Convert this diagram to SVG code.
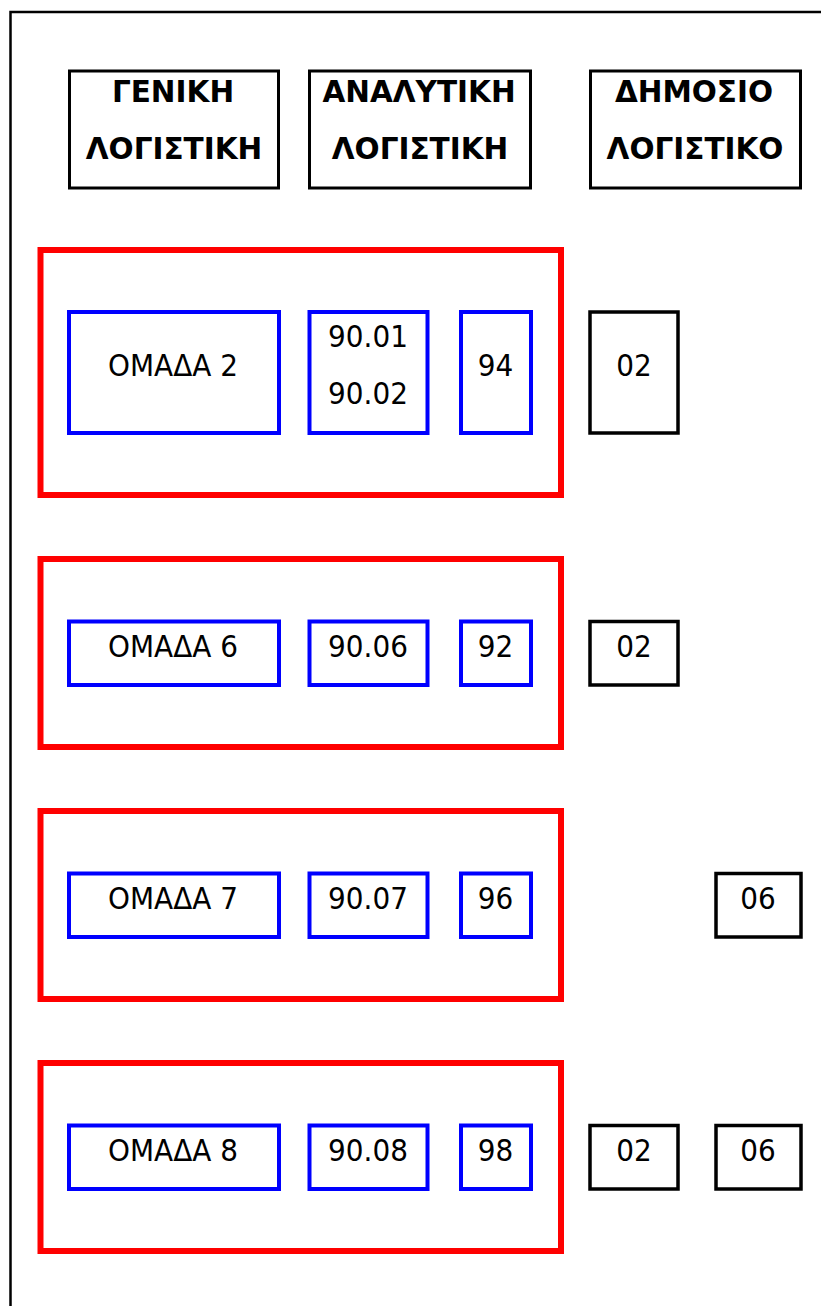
<svg xmlns="http://www.w3.org/2000/svg" width="821" height="1306" viewBox="0 0 821 1306">
  <style>
    .frame { fill: none; stroke: #000; stroke-width: 2.5; }
    .head { fill: #fff; stroke: #000; stroke-width: 3; }
    .grp { fill: none; stroke: #ff0000; stroke-width: 6; }
    .acc { fill: #fff; stroke: #0000ff; stroke-width: 4; }
    .pub { fill: #fff; stroke: #000; stroke-width: 3.5; }
    .ht { font-family: "DejaVu Sans", "Liberation Sans", sans-serif; font-weight: bold; font-size: 29.5px; text-anchor: middle; fill: #000; }
    .t { font-family: "DejaVu Sans Condensed", "DejaVu Sans", "Liberation Sans", sans-serif; font-stretch: condensed; font-size: 31px; text-anchor: middle; fill: #000; }
  </style>
  <rect width="821" height="1306" fill="#fff"/>

  <!-- page frame -->
  <path class="frame" d="M10.5,1306 V12 H821"/>

  <!-- column headers -->
  <g id="hdr-general">
    <rect class="head" x="69.5" y="71" width="209" height="117"/>
    <text class="ht" x="173" y="102">ΓΕΝΙΚΗ</text>
    <text class="ht" x="174" y="159">ΛΟΓΙΣΤΙΚΗ</text>
  </g>
  <g id="hdr-analytic">
    <rect class="head" x="309.5" y="71" width="221" height="117"/>
    <text class="ht" x="419" y="102">ΑΝΑΛΥΤΙΚΗ</text>
    <text class="ht" x="420" y="159">ΛΟΓΙΣΤΙΚΗ</text>
  </g>
  <g id="hdr-public">
    <rect class="head" x="590.5" y="71" width="210" height="117"/>
    <text class="ht" x="694" y="102">ΔΗΜΟΣΙΟ</text>
    <text class="ht" x="695" y="159">ΛΟΓΙΣΤΙΚΟ</text>
  </g>

  <!-- group 2 -->
  <g id="grp2">
    <rect class="grp" x="40.5" y="250" width="520.5" height="245"/>
    <g id="grp2-gen">
      <rect class="acc" x="69" y="312" width="210" height="121"/>
      <text class="t" x="173" y="376">ΟΜΑΔΑ 2</text>
    </g>
    <g id="grp2-ana">
      <rect class="acc" x="309.5" y="312" width="118" height="121"/>
      <text class="t" x="368" y="347">90.01</text>
      <text class="t" x="368" y="404">90.02</text>
    </g>
    <g id="grp2-cls">
      <rect class="acc" x="461" y="312" width="70" height="121"/>
      <text class="t" x="495.5" y="376">94</text>
    </g>
  </g>
  <g id="grp2-pub02">
    <rect class="pub" x="590" y="312" width="88" height="121"/>
    <text class="t" x="634" y="376">02</text>
  </g>

  <!-- group 6 -->
  <g id="grp6">
    <rect class="grp" x="40.5" y="559" width="520.5" height="188"/>
    <g id="grp6-gen">
      <rect class="acc" x="69" y="621.5" width="210" height="63.5"/>
      <text class="t" x="173" y="657">ΟΜΑΔΑ 6</text>
    </g>
    <g id="grp6-ana">
      <rect class="acc" x="309.5" y="621.5" width="118" height="63.5"/>
      <text class="t" x="368" y="657">90.06</text>
    </g>
    <g id="grp6-cls">
      <rect class="acc" x="461" y="621.5" width="70" height="63.5"/>
      <text class="t" x="495.5" y="657">92</text>
    </g>
  </g>
  <g id="grp6-pub02">
    <rect class="pub" x="590" y="621.5" width="88" height="63.5"/>
    <text class="t" x="634" y="657">02</text>
  </g>

  <!-- group 7 -->
  <g id="grp7">
    <rect class="grp" x="40.5" y="811" width="520.5" height="188"/>
    <g id="grp7-gen">
      <rect class="acc" x="69" y="873.5" width="210" height="63.5"/>
      <text class="t" x="173" y="908.5">ΟΜΑΔΑ 7</text>
    </g>
    <g id="grp7-ana">
      <rect class="acc" x="309.5" y="873.5" width="118" height="63.5"/>
      <text class="t" x="368" y="908.5">90.07</text>
    </g>
    <g id="grp7-cls">
      <rect class="acc" x="461" y="873.5" width="70" height="63.5"/>
      <text class="t" x="495.5" y="908.5">96</text>
    </g>
  </g>
  <g id="grp7-pub06">
    <rect class="pub" x="716" y="873.5" width="85" height="63.5"/>
    <text class="t" x="758" y="908.5">06</text>
  </g>

  <!-- group 8 -->
  <g id="grp8">
    <rect class="grp" x="40.5" y="1063" width="520.5" height="188"/>
    <g id="grp8-gen">
      <rect class="acc" x="69" y="1125.5" width="210" height="63.5"/>
      <text class="t" x="173" y="1160.5">ΟΜΑΔΑ 8</text>
    </g>
    <g id="grp8-ana">
      <rect class="acc" x="309.5" y="1125.5" width="118" height="63.5"/>
      <text class="t" x="368" y="1160.5">90.08</text>
    </g>
    <g id="grp8-cls">
      <rect class="acc" x="461" y="1125.5" width="70" height="63.5"/>
      <text class="t" x="495.5" y="1160.5">98</text>
    </g>
  </g>
  <g id="grp8-pub02">
    <rect class="pub" x="590" y="1125.5" width="88" height="63.5"/>
    <text class="t" x="634" y="1160.5">02</text>
  </g>
  <g id="grp8-pub06">
    <rect class="pub" x="716" y="1125.5" width="85" height="63.5"/>
    <text class="t" x="758" y="1160.5">06</text>
  </g>
</svg>
